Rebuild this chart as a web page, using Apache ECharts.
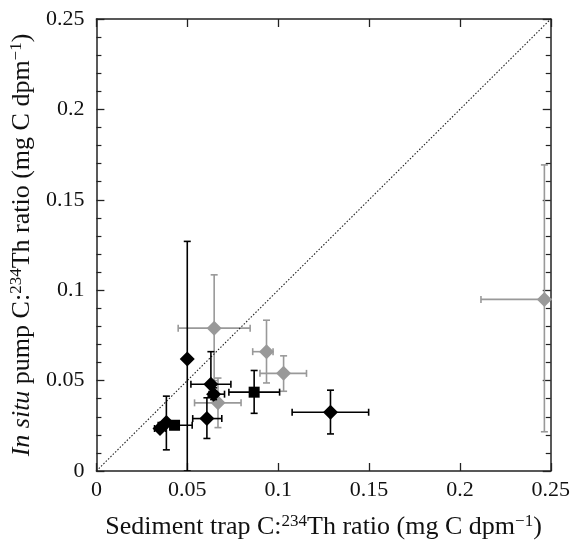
<!DOCTYPE html>
<html>
<head>
<meta charset="utf-8">
<script src="https://cdn.jsdelivr.net/npm/echarts@6/dist/echarts.min.js"></script>
<style>
  html, body { margin: 0; padding: 0; background: #fff; }
  #chart { width: 573px; height: 545px; }
</style>
</head>
<body>
<div id="chart"></div>
<script>
// rows: [x, y, xLow, xHigh, yLow, yHigh]  (null = no bar)
var blackDiamonds = [
	[0.0500, 0.0620, null, null, 0.0000, 0.1270],
	[0.0630, 0.0480, 0.0520, 0.0740, 0.0410, 0.0660],
	[0.0645, 0.0425, 0.0620, 0.0705, 0.0395, 0.0460],
	[0.0608, 0.0290, 0.0530, 0.0690, 0.0180, 0.0405],
	[0.1288, 0.0325, 0.1077, 0.1498, 0.0205, 0.0447],
	[0.0350, 0.0235, 0.0320, 0.0380, null, null],
	[0.0385, 0.0268, null, null, 0.0117, 0.0414]
];
var blackSquares = [
	[0.0868, 0.0436, 0.0729, 0.1008, 0.0319, 0.0556],
	[0.0430, 0.0253, 0.0340, 0.0527, null, null]
];
var grayDiamonds = [
	[0.0648, 0.0790, 0.0450, 0.0846, 0.0500, 0.1085],
	[0.0936, 0.0660, 0.0860, 0.0972, 0.0487, 0.0834],
	[0.1030, 0.0540, 0.0900, 0.1156, 0.0441, 0.0637],
	[0.0669, 0.0377, 0.0540, 0.0796, 0.0240, 0.0514],
	[0.2465, 0.0949, 0.2116, 0.2814, 0.0217, 0.1693]
];
var oneToOne = [[0, 0], [0.25, 0.25]];
var tickLabels = ['0', '0.05', '0.1', '0.15', '0.2', '0.25'];

var FONT = 'Liberation Serif';
var BLACK = '#000';
var GRAY = '#999';

function errorBars(rows, color) {
	return function(params, api) {
		var r = rows[params.dataIndex];
		var c = api.coord([r[0], r[1]]);
		var cap = 3.5;
		var style = { stroke: color, lineWidth: 1.6 };
		var kids = [];
		if (r[2] != null) {
			var a = api.coord([r[2], r[1]]), b = api.coord([r[3], r[1]]);
			kids.push({ type: 'line', shape: { x1: a[0], y1: c[1], x2: b[0], y2: c[1] }, style: style });
			kids.push({ type: 'line', shape: { x1: a[0], y1: c[1] - cap, x2: a[0], y2: c[1] + cap }, style: style });
			kids.push({ type: 'line', shape: { x1: b[0], y1: c[1] - cap, x2: b[0], y2: c[1] + cap }, style: style });
		}
		if (r[4] != null) {
			var lo = api.coord([r[0], r[4]]), hi = api.coord([r[0], r[5]]);
			kids.push({ type: 'line', shape: { x1: c[0], y1: lo[1], x2: c[0], y2: hi[1] }, style: style });
			kids.push({ type: 'line', shape: { x1: c[0] - cap, y1: lo[1], x2: c[0] + cap, y2: lo[1] }, style: style });
			kids.push({ type: 'line', shape: { x1: c[0] - cap, y1: hi[1], x2: c[0] + cap, y2: hi[1] }, style: style });
		}
		return { type: 'group', children: kids };
	};
}

function fmt(v) {
	var i = Math.round(v / 0.05);
	return tickLabels[i] != null ? tickLabels[i] : '';
}

var titleRich = {
	it: { fontFamily: FONT, fontStyle: 'italic', fontSize: 26, color: '#111', lineHeight: 30, verticalAlign: 'bottom' },
	n: { fontFamily: FONT, fontSize: 26, color: '#111', lineHeight: 30, verticalAlign: 'bottom' },
	sup: { fontFamily: FONT, fontSize: 17, color: '#111', lineHeight: 30, verticalAlign: 'bottom', padding: [0, 0, 10, 0] }
};

function xAxisDef(pos, labels) {
	return {
		type: 'value', position: pos, min: 0, max: 0.25, interval: 0.05,
		axisLine: { show: true, onZero: false, lineStyle: { color: '#222', width: 1.5 } },
		axisTick: { show: true, inside: true, length: 8, lineStyle: { color: '#222', width: 1.3 } },
		axisLabel: { show: labels, formatter: fmt, fontFamily: FONT, fontSize: 22, color: '#111', margin: 8 },
		splitLine: { show: false },
		name: labels ? '{n|Sediment trap C:}{sup|234}{n|Th ratio (mg C dpm}{sup|\u22121}{n|)}' : '',
		nameLocation: 'middle',
		nameGap: 39,
		nameTextStyle: { rich: titleRich }
	};
}

function yAxisDef(pos, labels) {
	return {
		type: 'value', position: pos, min: 0, max: 0.25, interval: 0.05,
		axisLine: { show: true, onZero: false, lineStyle: { color: '#222', width: 1.5 } },
		axisTick: { show: true, inside: true, length: 8, lineStyle: { color: '#222', width: 1.3 } },
		minorTick: { show: true, splitNumber: 5, length: 5, lineStyle: { color: '#222', width: 1.2 } },
		axisLabel: { show: labels, formatter: fmt, fontFamily: FONT, fontSize: 22, color: '#111', margin: 12 },
		splitLine: { show: false },
		name: labels ? '{it|In situ}{n| pump C:}{sup|234}{n|Th ratio (mg C dpm}{sup|\u22121}{n|)}' : '',
		nameLocation: 'middle',
		nameRotate: 90,
		nameGap: 32,
		nameTextStyle: { rich: titleRich }
	};
}

var myChart = echarts.init(document.getElementById('chart'), null, { renderer: 'canvas' });
myChart.setOption({
	backgroundColor: '#fff',
	animation: false,
	grid: { left: 94, right: 17, top: 19, bottom: 69 },
	xAxis: [xAxisDef('bottom', true), xAxisDef('top', false)],
	yAxis: [yAxisDef('left', true), yAxisDef('right', false)],
	series: [
		{
			type: 'line', data: oneToOne, symbol: 'none', silent: true,
			lineStyle: { color: '#222', width: 1.1, type: [1.5, 1.8] }
		},
		{
			type: 'custom', data: grayDiamonds.map(function(r) { return [r[0], r[1]]; }),
			renderItem: errorBars(grayDiamonds, GRAY), clip: true, z: 3
		},
		{
			type: 'scatter', data: grayDiamonds.map(function(r) { return [r[0], r[1]]; }),
			symbol: 'diamond', symbolSize: 15, itemStyle: { color: GRAY, opacity: 1 }, z: 4
		},
		{
			type: 'custom', data: blackSquares.map(function(r) { return [r[0], r[1]]; }),
			renderItem: errorBars(blackSquares, BLACK), clip: true, z: 5
		},
		{
			type: 'custom', data: blackDiamonds.map(function(r) { return [r[0], r[1]]; }),
			renderItem: errorBars(blackDiamonds, BLACK), clip: true, z: 5
		},
		{
			type: 'scatter', data: blackSquares.map(function(r) { return [r[0], r[1]]; }),
			symbol: 'rect', symbolSize: 11, itemStyle: { color: BLACK, opacity: 1 }, z: 6
		},
		{
			type: 'scatter', data: blackDiamonds.map(function(r) { return [r[0], r[1]]; }),
			symbol: 'diamond', symbolSize: 15, itemStyle: { color: BLACK, opacity: 1 }, z: 6
		}
	]
});
</script>
</body>
</html>
